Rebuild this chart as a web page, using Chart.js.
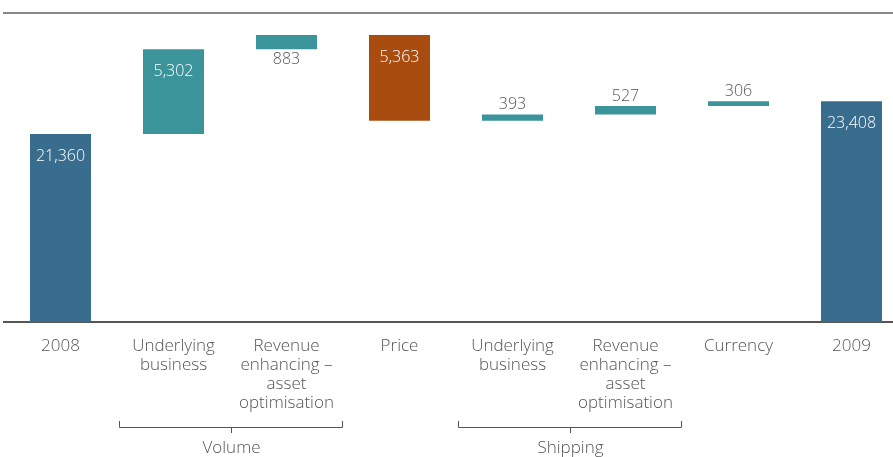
<!DOCTYPE html>
<html>
<head>
<meta charset="utf-8">
<script src="https://cdn.jsdelivr.net/npm/chart.js@4/dist/chart.umd.min.js"></script>
<style>
  html, body { margin: 0; padding: 0; background: #fff; overflow: hidden; }
  #wrap { position: absolute; left: 0; top: 0; width: 908px; height: 457px; }
</style>
</head>
<body>
<div id="wrap"><canvas id="chart"></canvas></div>
<script>
'use strict';

// ── Data ──────────────────────────────────────────────────────────────
const categories = [
  '2008',
  ['Underlying', 'business'],
  ['Revenue', 'enhancing –', 'asset', 'optimisation'],
  'Price',
  ['Underlying', 'business'],
  ['Revenue', 'enhancing –', 'asset', 'optimisation'],
  'Currency',
  '2009'
];
const values  = [21360, 5302, 883, -5363, 393, 527, 306, 23408];
const isTotal = [true, false, false, false, false, false, false, true];
const barColors = ['#396d8e', '#3a9499', '#3a9499', '#a94c10', '#3a9499', '#3a9499', '#3a9499', '#396d8e'];
const groups = [
  { label: 'Volume',   from: 1, to: 2 },
  { label: 'Shipping', from: 4, to: 5 }
];

// floating [start, end] ranges for the waterfall
let running = 0;
const ranges = values.map((v, i) => {
  if (isTotal[i]) { running = v; return [0, v]; }
  const start = running;
  running += v;
  return [start, running];
});

const FONT = '"Open Sans", "DejaVu Sans", sans-serif';

// ── Value labels ─────────────────────────────────────────────────────
const valueLabels = {
  id: 'valueLabels',
  afterDatasetsDraw(chart) {
    const { ctx, chartArea } = chart;
    const meta = chart.getDatasetMeta(0);
    ctx.save();
    ctx.font = '300 16px ' + FONT;
    ctx.textAlign = 'center';
    ctx.textBaseline = 'middle';
    meta.data.forEach((bar, i) => {
      const top = Math.min(bar.y, bar.base);
      const bottom = Math.max(bar.y, bar.base);
      const txt = Math.abs(values[i]).toLocaleString('en-US');
      if (bottom - top > 40) {
        ctx.fillStyle = '#ffffff';
        ctx.fillText(txt, bar.x, top + 22);
      } else if (top - chartArea.top < 26) {
        ctx.fillStyle = '#555555';
        ctx.fillText(txt, bar.x, bottom + 10);
      } else {
        ctx.fillStyle = '#555555';
        ctx.fillText(txt, bar.x, top - 10);
      }
    });
    ctx.restore();
  }
};

// ── Group brackets under the axis labels ─────────────────────────────
const groupBrackets = {
  id: 'groupBrackets',
  afterDraw(chart) {
    const { ctx, chartArea } = chart;
    const x = chart.scales.x;
    const step = x.getPixelForValue(1) - x.getPixelForValue(0);
    const y = chartArea.bottom + 105;
    ctx.save();
    ctx.strokeStyle = '#555555';
    ctx.lineWidth = 1;
    ctx.fillStyle = '#555555';
    ctx.font = '300 17px ' + FONT;
    ctx.textAlign = 'center';
    ctx.textBaseline = 'top';
    groups.forEach(g => {
      const l = Math.round(x.getPixelForValue(g.from) - step * 0.48) + 0.5;
      const r = Math.round(x.getPixelForValue(g.to) + step * 0.49) + 0.5;
      const mid = Math.round((l + r) / 2) + 0.5;
      ctx.beginPath();
      ctx.moveTo(l, y - 6);
      ctx.lineTo(l, y + 0.5);
      ctx.lineTo(r, y + 0.5);
      ctx.lineTo(r, y - 6);
      ctx.moveTo(mid, y);
      ctx.lineTo(mid, y + 6);
      ctx.stroke();
      ctx.fillText(g.label, mid, y + 13);
    });
    ctx.restore();
  }
};

new Chart(document.getElementById('chart'), {
  type: 'bar',
  data: {
    labels: categories,
    datasets: [{
      data: ranges,
      backgroundColor: barColors,
      borderWidth: 0,
      borderSkipped: false,
      barPercentage: 0.54,
      categoryPercentage: 1.0
    }]
  },
  options: {
    responsive: true,
    maintainAspectRatio: false,
    animation: false,
    layout: { padding: { left: 4, right: 0, top: 0, bottom: 0 } },
    plugins: { legend: { display: false }, tooltip: { enabled: false } },
    scales: {
      x: {
        grid: { display: false, drawTicks: false },
        border: { display: true, color: '#555555', width: 2 },
        ticks: {
          color: '#555555',
          font: { family: FONT, size: 17, weight: 300, lineHeight: 1.12 },
          padding: 15,
          maxRotation: 0,
          autoSkip: false
        },
        afterFit: axis => { axis.height = 135; }
      },
      x2: {
        position: 'top',
        grid: { display: false, drawTicks: false },
        border: { display: true, color: '#888888', width: 2 },
        ticks: { display: false },
        afterFit: axis => { axis.height = 13; }
      },
      y: {
        display: false,
        min: 9610,
        max: 28920
      }
    }
  },
  plugins: [valueLabels, groupBrackets]
});
</script>
</body>
</html>
